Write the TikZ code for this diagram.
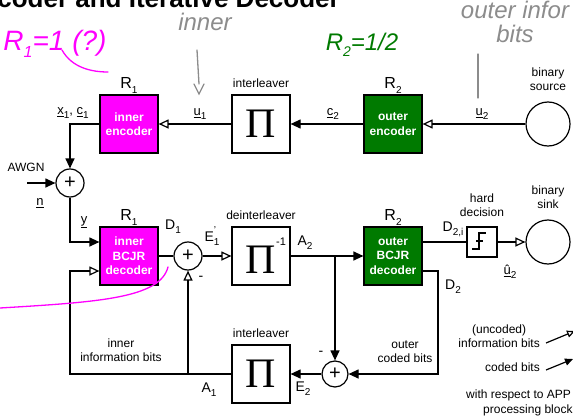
\documentclass[tikz,border=0pt]{standalone}
\usepackage{fontspec}
\setmainfont{Liberation Sans}
\newfontfamily\pifont{Liberation Serif}
\usetikzlibrary{arrows.meta,positioning,calc}
\definecolor{decMag}{HTML}{FF00FF}
\definecolor{decGreen}{HTML}{007A00}
\definecolor{noteGray}{HTML}{8C8C8C}
\newcommand{\sbs}[1]{\raisebox{-0.55ex}{\fontsize{10}{10}\selectfont #1}}
\tikzset{
  blk/.style={draw, line width=1.2pt, minimum width=58pt, minimum height=58pt, inner sep=1pt, align=center},
  innerblk/.style={blk, fill=decMag, text=white, font=\fontsize{12}{14.5}\selectfont\bfseries},
  outerblk/.style={blk, fill=decGreen, text=white, font=\fontsize{12}{14.5}\selectfont\bfseries},
  pibox/.style={blk, fill=white, font=\pifont\fontsize{42}{42}\selectfont},
  sumnode/.style={draw, circle, line width=1.2pt, minimum size=28pt, inner sep=0pt, font=\fontsize{20}{20}\selectfont},
  bitnode/.style={draw, circle, line width=1.2pt, minimum size=44pt},
  hdbox/.style={draw, line width=1.2pt, minimum size=30pt},
  lbl/.style={font=\fontsize{12}{14}\selectfont, align=center, inner sep=1pt},
  rlbl/.style={font=\fontsize{16}{16}\selectfont, inner sep=1pt},
  sig/.style={font=\fontsize{14}{15}\selectfont, inner sep=1pt},
  usig/.style={font=\fontsize{13}{14}\selectfont, inner sep=1pt},
  wire/.style={line width=1.2pt},
  fillarr/.style={wire, -{Triangle[length=10pt, width=9pt]}},
  openarr/.style={wire, -{Triangle[open, length=10pt, width=9pt]}},
  note/.style={font=\fontsize{24}{24}\selectfont\itshape, inner sep=0pt},
  inkline/.style={line width=1.3pt, line cap=round}
}
\begin{document}
\begin{tikzpicture}[x=1pt, y=-1pt]
  \useasboundingbox (0,0) rectangle (573,420);
  % title, cut off at the top
  \node[font=\fontsize{26}{26}\selectfont\bfseries, anchor=base east, inner sep=0pt] (title) at (340,8) {Encoder and Iterative Decoder};

  % encoder chain
  \node[innerblk] (enc1) at (129,124) {inner\\encoder};
  \node[pibox] (pi1) at (261,124) {Π};
  \node[outerblk] (enc2) at (393,124) {outer\\encoder};
  \node[bitnode] (src) at (548,124) {};
  \node[sumnode] (sum1) at (70,183) {+};
  \coordinate (awgn) at (27,183);

  % decoder chain
  \node[innerblk] (dec1) at (129,256) {inner\\BCJR\\decoder};
  \node[sumnode] (sum2) at (188,256) {+};
  \node[pibox] (pi2) at (261,256) {Π\makebox[0pt][l]{\raisebox{0.66em}{\normalfont\fontsize{11}{11}\selectfont -1}}};
  \node[outerblk] (dec2) at (393,256) {outer\\BCJR\\decoder};
  \node[hdbox] (hd) at (482,242) {};
  \node[bitnode] (sink) at (548,242) {};
  \node[pibox] (pi3) at (261,374) {Π};
  \node[sumnode, minimum size=26pt] (sum3) at (335,374) {+};
  \coordinate (fbL) at (70,374);
  \coordinate (d2c) at (438,374);

  % block labels
  \node[rlbl, above=0pt of enc1] (r1a) {R\sbs{1}};
  \node[rlbl, above=0pt of enc2] (r2a) {R\sbs{2}};
  \node[rlbl, above=0pt of dec1] (r1b) {R\sbs{1}};
  \node[rlbl, above=0pt of dec2] (r2b) {R\sbs{2}};
  \node[lbl, above=6pt of pi1] (il1) {interleaver};
  \node[lbl, above=6pt of pi2] (dil) {deinterleaver};
  \node[lbl, above=6pt of pi3] (il2) {interleaver};
  \node[lbl] (srclbl) at (548,79) {binary\\source};
  \node[lbl] (sinklbl) at (548,197) {binary\\sink};
  \node[lbl] (hdlbl) at (482,205) {hard\\decision};
  \node[lbl] (awgnlbl) at (26,167) {AWGN};
  \node[lbl] (inbits) at (121,350) {inner\\information bits};
  \node[lbl] (outbits) at (405,352) {outer\\coded bits};

  % signal labels
  \node[usig] (xc) at (73,113) {\underline{x}\sbs{1}, \underline{c}\sbs{1}};
  \node[usig] (u1) at (200,114) {\underline{u}\sbs{1}};
  \node[usig] (c2) at (333,114) {\underline{c}\sbs{2}};
  \node[usig] (u2) at (482,114) {\underline{u}\sbs{2}};
  \node[usig] (nn) at (40,203) {\underline{n}};
  \node[usig] (yy) at (84,222) {\underline{y}};
  \node[sig] (d1) at (173,227) {D\sbs{1}};
  \node[sig] (e1) at (212,236) {E\rlap{\raisebox{1.1ex}{\fontsize{10}{10}\selectfont '}}\sbs{1}};
  \node[sig] (m2) at (201,278) {-};
  \node[sig] (a2) at (305,243) {A\sbs{2}};
  \node[sig] (d2i) at (453,229) {D\sbs{2,i}};
  \node[usig] (uh) at (510,272) {\underline{û}\sbs{2}};
  \node[sig] (d2) at (453,287) {D\sbs{2}};
  \node[sig] (m3) at (321,353) {-};
  \node[sig] (e2) at (303,389) {E\sbs{2}};
  \node[sig] (a1) at (209,390) {A\sbs{1}};

  % encoder connectors
  \draw[openarr] (src) -- (enc2);
  \draw[fillarr] (enc2) -- (pi1);
  \draw[openarr] (pi1) -- (enc1);
  \draw[fillarr] (enc1.west) -| (sum1.north);
  \draw[fillarr] (awgn) -- (sum1.west);
  \draw[fillarr] (sum1.south) |- ([yshift=14pt]dec1.west);

  % decoder connectors
  \draw[wire] (dec1) -- (sum2);
  \draw[openarr] (sum2) -- (pi2);
  \draw[fillarr] (pi2) -- (dec2);
  \draw[fillarr] (sum3 |- pi2.east) -- (sum3.north);
  \draw[wire] ([yshift=14pt]dec2.east) -- (hd.west);
  \draw[openarr] (hd) -- (sink);
  \draw[fillarr] ([yshift=-15pt]dec2.east) -| (d2c) -- (sum3.east);
  \draw[fillarr] (sum3) -- (pi3);
  \draw[openarr] (pi3.west) -- (fbL) |- ([yshift=-15pt]dec1.west);
  \draw[openarr] (sum2 |- pi3.west) -- (sum2.south);

  % hard decision symbol
  \draw[wire] ([shift={(-10,7)}]hd.center) -- ++(7,0) -- ++(0,-16) -- ++(7,0);
  \draw[wire] ([shift={(-6,-1)}]hd.center) -- ++(7,0);

  % legend
  \coordinate (lgA0) at (546,343);
  \coordinate (lgA1) at (575,331);
  \coordinate (lgB0) at (546,370);
  \coordinate (lgB1) at (573,359);
  \node[lbl, anchor=east] (lgA) at (541,336) {(uncoded)\\information bits};
  \node[lbl, anchor=east] (lgB) at (541,367) {coded bits};
  \node[lbl, anchor=west] (lgC) at (465,395) {with respect to APP};
  \node[lbl, anchor=west] (lgD) at (482,410) {processing block};
  \draw[wire, -{Triangle[open, length=8pt, width=7pt]}] (lgA0) -- (lgA1);
  \draw[wire, -{Triangle[length=8pt, width=7pt]}] (lgB0) -- (lgB1);

  % handwritten notes
  \node[note, font=\fontsize{28}{28}\selectfont\itshape, text=decMag] (n1) at (55,44) {R\raisebox{-0.5ex}{\fontsize{16}{16}\selectfont 1}=1 (?)};
  \draw[inkline, decMag] (62,50) .. controls (72,68) and (92,72) .. (108,72);
  \draw[inkline, decMag] (0,308) .. controls (100,302) and (160,298) .. (168,267);
  \node[note, text=noteGray] (n2) at (205,22) {inner};
  \draw[inkline, noteGray] (197,50) -- (199,84);
  \draw[inkline, noteGray] (194,84) -- (199,94) -- (204,84);
  \node[note, text=decGreen] (n3) at (362,45) {R\raisebox{-0.5ex}{\fontsize{14}{14}\selectfont 2}=1/2};
  \node[note, text=noteGray, align=center] (n4) at (515,22) {outer infor\\bits};
  \draw[inkline, noteGray] (478,54) -- (478,98);
\end{tikzpicture}
\end{document}
